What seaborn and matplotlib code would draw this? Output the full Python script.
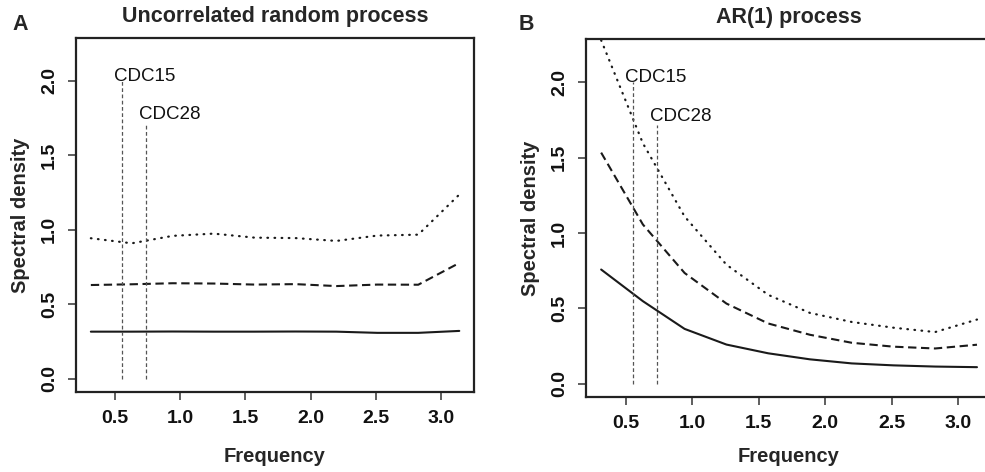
import numpy as np
import matplotlib
matplotlib.use("Agg")
import matplotlib.pyplot as plt
import seaborn as sns

# frequencies (k*pi/10, k = 1..10)
freq = [0.314, 0.628, 0.942, 1.257, 1.571, 1.885, 2.199, 2.513, 2.827, 3.142]

# panel A: uncorrelated random process
a_solid = [0.317, 0.317, 0.318, 0.317, 0.317, 0.318, 0.317, 0.309, 0.309, 0.322]
a_dashed = [0.630, 0.635, 0.642, 0.640, 0.633, 0.636, 0.623, 0.633, 0.632, 0.778]
a_dotted = [0.944, 0.910, 0.960, 0.975, 0.948, 0.945, 0.926, 0.962, 0.968, 1.237]

# panel B: AR(1) process
b_solid = [0.758, 0.548, 0.364, 0.260, 0.202, 0.162, 0.135, 0.122, 0.114, 0.110]
b_dashed = [1.534, 1.057, 0.735, 0.532, 0.400, 0.325, 0.272, 0.246, 0.234, 0.259]
b_dotted = [2.280, 1.596, 1.110, 0.790, 0.590, 0.470, 0.410, 0.372, 0.343, 0.426]

# gene markers
cdc_names = ["CDC15", "CDC28"]
cdc_freq = [0.552, 0.738]
cdc_top = [2.0, 1.72]
cdc_label_y = [2.0, 1.745]

titles = ["Uncorrelated random process", "AR(1) process"]
letters = ["A", "B"]
xticks = [0.5, 1.0, 1.5, 2.0, 2.5, 3.0]
yticks = [0.0, 0.5, 1.0, 1.5, 2.0]

sns.set_style("ticks")
plt.rcParams['font.family'] = ['Liberation Sans', 'DejaVu Sans']

W, H = 985, 472
fig = plt.figure(figsize=(W / 100, H / 100), dpi=100)

# axes boxes in pixels: left, top, right, bottom
boxes = [(76, 38, 474, 392), (586, 39, 992, 397)]
panels = [(a_solid, a_dashed, a_dotted), (b_solid, b_dashed, b_dotted)]
letter_x = [12, 519]
xlabel_pad = [14, 10.5]

ink = "#1a1a1a"
for i in range(2):
    l, t, r, b = boxes[i]
    ax = fig.add_axes([l / W, 1 - b / H, (r - l) / W, (b - t) / H])
    solid, dashed, dotted = panels[i]

    sns.lineplot(x=freq, y=solid, ax=ax, color=ink, lw=1.5)
    sns.lineplot(x=freq, y=dashed, ax=ax, color=ink, lw=1.5,
                 linestyle=(0, (4.0, 2.2)))
    sns.lineplot(x=freq, y=dotted, ax=ax, color=ink, lw=1.6,
                 linestyle=(0, (0.3, 2.9)), dash_capstyle='round')

    for name, fx, top, ly in zip(cdc_names, cdc_freq, cdc_top, cdc_label_y):
        ax.plot([fx, fx], [0, top], color="#555555", lw=0.9,
                linestyle=(0, (3, 2)))
        ax.text(fx - 0.058, ly, name, fontsize=13.5, ha='left',
                va='baseline', color="#111111")

    ax.set_xlim(0.2, 3.255)
    ax.set_ylim(-0.088, 2.288)
    ax.set_xticks(xticks)
    ax.set_yticks(yticks)
    ax.set_xticklabels([f"{v:.1f}" for v in xticks], fontsize=14,
                       fontweight='bold')
    ax.set_yticklabels([f"{v:.1f}" for v in yticks], fontsize=14,
                       fontweight='bold')
    ax.tick_params(axis='y', labelrotation=90)
    ax.tick_params(length=5.5, width=1.1, color="#333333", pad=7.5,
                   labelcolor="#111111")
    for lab in ax.get_yticklabels():
        lab.set_va('center')

    for s in ax.spines.values():
        s.set_color("#222222")
        s.set_linewidth(1.6)

    ax.set_xlabel("Frequency", fontsize=14.5, fontweight='bold',
                  labelpad=xlabel_pad[i])
    ax.set_ylabel("Spectral density", fontsize=14.5, fontweight='bold',
                  labelpad=8)
    ax.set_title(titles[i], fontsize=15.5, fontweight='bold', pad=11.5)

    fig.text(letter_x[i] / W, 1 - 30 / H, letters[i], fontsize=15.5,
             fontweight='bold', va='baseline', ha='left')

fig.savefig("out.png", dpi=100)
